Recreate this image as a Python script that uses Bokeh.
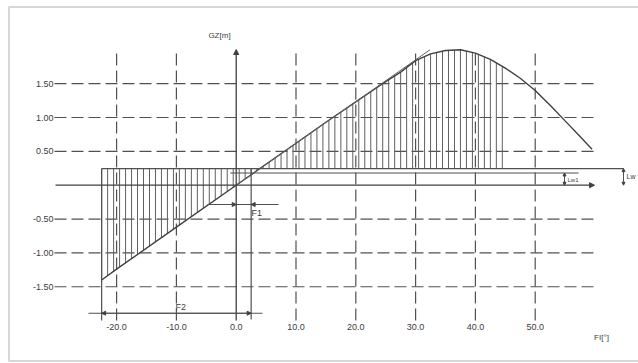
import numpy as np
from bokeh.plotting import figure
from bokeh.models import Range1d, Arrow, NormalHead, BoxAnnotation
from bokeh.core.properties import value
from bokeh.embed import file_html
from bokeh.resources import INLINE

# ---- data ----
phi = [-22.5, -20, -10, 0, 10, 15, 20, 22.5, 25, 27.5, 30, 32.5, 35, 37.5,
       40, 42.5, 45, 47.5, 50, 52.5, 55, 57.5, 59.5]
gz = [-1.40, -1.24, -0.62, 0.0, 0.62, 0.93, 1.23, 1.38, 1.53, 1.67, 1.84, 1.94,
      1.99, 2.00, 1.95, 1.86, 1.73, 1.58, 1.40, 1.18, 0.95, 0.72, 0.53]
tangent_phi = [0.0, 32.4]
tangent_gz = [0.0, 2.0]
x_ticks = [-20, -10, 0, 10, 20, 30, 40, 50]
x_labels = ["-20.0", "-10.0", "0.0", "10.0", "20.0", "30.0", "40.0", "50.0"]
y_ticks = [1.5, 1.0, 0.5, -0.5, -1.0, -1.5]
y_labels = ["1.50", "1.00", "0.50", "-0.50", "-1.00", "-1.50"]
lw = 0.245          # heeling lever Lw
lw1 = 0.18          # heeling lever Lw1
phi_left = -22.5    # left bound of hatched area
phi_right = 44.5    # right bound of hatched area
phi_f1 = 2.5        # F1 angle

# ---- pixel helpers for layout (picture px -> data) ----
X0, SX = 235.7, 5.98
Y0, SY = 184.7, 67.7
def dx(px):
    return (px - X0) / SX
def dy(py):
    return (Y0 - py) / SY

W, H = 638, 363
p = figure(width=W, height=H, x_range=Range1d(dx(0), dx(W)),
           y_range=Range1d(dy(H), dy(0)), x_axis_type=None, y_axis_type=None,
           output_backend="svg", toolbar_location=None, min_border=0,
           background_fill_color="white", border_fill_color="white")
p.grid.visible = False
p.outline_line_color = None

INK = "#505050"
FONT = value("Liberation Sans")

# frame
p.add_layout(BoxAnnotation(left=dx(8.5), right=dx(720), top=dy(6.5), bottom=dy(360.5),
                           fill_alpha=0, line_color="#7a7a7a", line_width=2))

# dashed grid
p.segment(x0=[dx(54)] * len(y_ticks), x1=[dx(595)] * len(y_ticks), y0=y_ticks, y1=y_ticks,
          line_color=INK, line_width=1.2, line_dash="12 5")
vx = [t for t in x_ticks if t != 0]
p.segment(x0=vx, x1=vx, y0=[dy(320)] * len(vx), y1=[dy(50)] * len(vx),
          line_color=INK, line_width=1.2, line_dash="12 5")

# hatching
hx = np.arange(phi_left, phi_right + 0.01, 1.0)
htop = np.interp(hx, phi, gz)
p.segment(x0=hx, x1=hx, y0=[lw] * len(hx), y1=htop, line_color="#606060", line_width=1)

# heeling lever lines
p.line([phi_left, dx(623)], [lw, lw], line_color=INK, line_width=1.2)
p.line([-1.0, dx(578)], [lw1, lw1], line_color=INK, line_width=1.2)

# GZ curve and tangent
p.line(phi, gz, line_color="#404040", line_width=1.4)
p.line(tangent_phi, tangent_gz, line_color="#606060", line_width=1)

# axes with arrows
head = lambda s=5: NormalHead(size=s, fill_color="#404040", line_color="#404040")
p.add_layout(Arrow(end=head(), x_start=dx(55), y_start=0, x_end=dx(594), y_end=0,
                   line_color="#404040", line_width=1.3))
p.add_layout(Arrow(end=head(), x_start=0, y_start=dy(320), x_end=0, y_end=dy(49),
                   line_color="#404040", line_width=1.3))

# extension lines
p.segment(x0=[phi_left, phi_f1], x1=[phi_left, phi_f1], y0=[lw, lw], y1=[dy(320), dy(319)],
          line_color=INK, line_width=1.2)

# F2 dimension
p.segment(x0=[dx(88)], x1=[dx(262)], y0=[dy(312.7)], y1=[dy(312.7)], line_color=INK, line_width=1.1)
p.add_layout(Arrow(end=head(4), x_start=-10, y_start=dy(312.7), x_end=phi_left, y_end=dy(312.7),
                   line_color=INK, line_width=1.1))
p.add_layout(Arrow(end=head(4), x_start=-10, y_start=dy(312.7), x_end=phi_f1, y_end=dy(312.7),
                   line_color=INK, line_width=1.1))
# F1 dimension
p.add_layout(Arrow(end=head(4), x_start=dx(207), y_start=dy(204), x_end=0, y_end=dy(204),
                   line_color=INK, line_width=1.1))
p.add_layout(Arrow(end=head(4), x_start=dx(278), y_start=dy(204), x_end=phi_f1, y_end=dy(204),
                   line_color=INK, line_width=1.1))
p.segment(x0=[0], x1=[phi_f1], y0=[dy(204)], y1=[dy(204)], line_color=INK, line_width=1.1)

# Lw1 / Lw dimensions
for xpx, top in [(564, lw1), (623, lw)]:
    p.add_layout(Arrow(end=head(3), start=head(3), x_start=dx(xpx), y_start=0,
                       x_end=dx(xpx), y_end=top, line_color=INK, line_width=1))

# texts
tx = dict(text_font=FONT, text_color="#3c3c3c")
p.text(x=x_ticks, y=[dy(326)] * len(x_ticks), text=x_labels, text_align="center",
       text_baseline="middle", text_font_size="9px", **tx)
p.text(x=[dx(53)] * len(y_ticks), y=y_ticks, text=y_labels, text_align="right",
       text_baseline="middle", text_font_size="9px", **tx)
p.text(x=[dx(219)], y=[dy(35)], text=["GZ[m]"], text_align="center", text_baseline="middle",
       text_font_size="8px", **tx)
p.text(x=[dx(601)], y=[dy(337)], text=["FI[°]"], text_align="center", text_baseline="middle",
       text_font_size="8px", **tx)
p.text(x=[dx(175)], y=[dy(306)], text=["F2"], text_align="left", text_baseline="middle",
       text_font_size="9px", **tx)
p.text(x=[dx(251)], y=[dy(212)], text=["F1"], text_align="left", text_baseline="middle",
       text_font_size="9px", **tx)
p.text(x=[dx(567)], y=[dy(179)], text=["Lw1"], text_align="left", text_baseline="middle",
       text_font_size="6px", **tx)
p.text(x=[dx(626)], y=[dy(176)], text=["Lw"], text_align="left", text_baseline="middle",
       text_font_size="7px", **tx)

open("out.html", "w").write(file_html(p, INLINE))
